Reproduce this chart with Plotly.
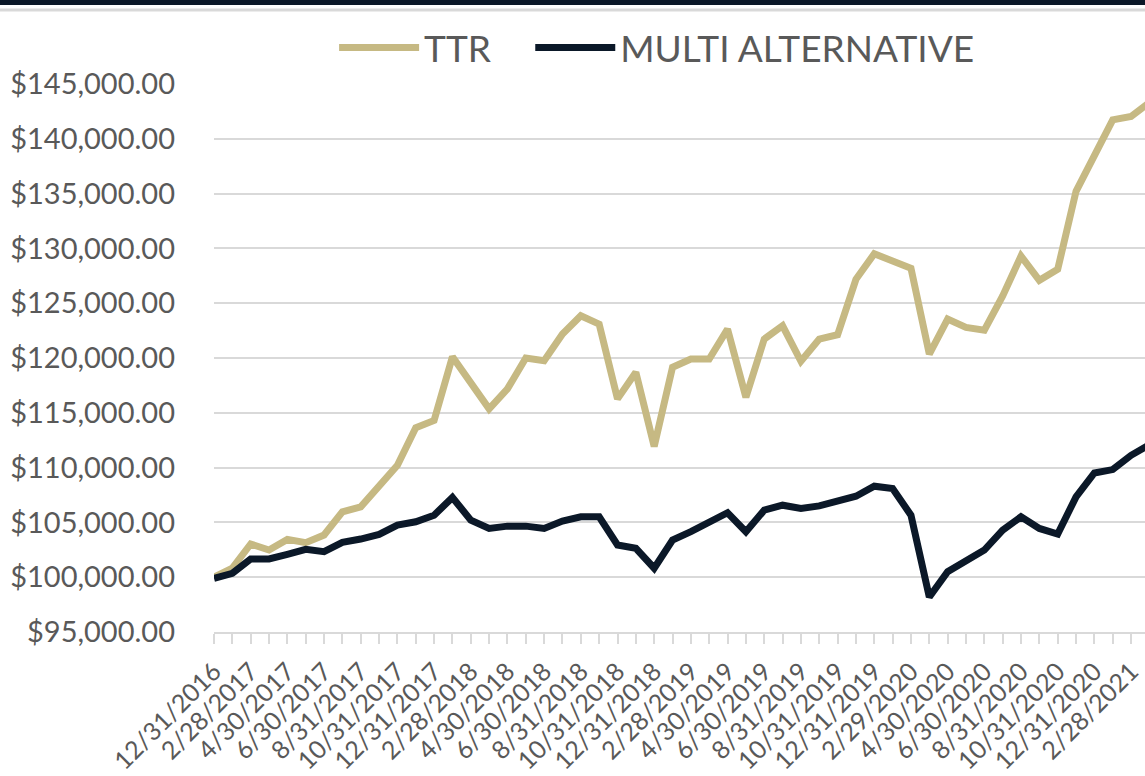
import pandas as pd
import plotly.graph_objects as go

# Month-end dates 12/31/2016 .. 3/31/2021
dates = pd.date_range("2016-12-31", "2021-03-31", freq="ME")
date_labels = [f"{d.month}/{d.day}/{d.year}" for d in dates]

ttr = [100000, 100820, 103030, 102480, 103450, 103150, 103850, 105960, 106420, 108390,
       110210, 113640, 114300, 120120, 117780, 115360, 117180, 120000, 119750, 122180,
       123850, 123090, 116270, 118690, 111940, 119150, 119900, 119900, 122630, 116420,
       121730, 122940, 119700, 121730, 122120, 127180, 129510, 128900, 128180, 120360,
       123550, 122790, 122540, 125660, 129300, 127090, 128090, 135210, 138550, 141730,
       142030, 143300]

multi_alt = [99900, 100360, 101660, 101660, 102090, 102550, 102330, 103180, 103480, 103910,
             104750, 105060, 105660, 107270, 105210, 104450, 104660, 104660, 104450, 105120,
             105510, 105510, 102940, 102640, 100820, 103390, 104150, 104970, 105880, 104150,
             106120, 106570, 106270, 106510, 107030, 107390, 108300, 108090, 105660, 98200,
             100510, 101570, 102480, 104300, 105510, 104450, 103940, 107330, 109510, 109820,
             111120, 112090]

series_names = ["TTR", "MULTI ALTERNATIVE"]
series_colors = ["#C6B983", "#0B1828"]
series_legends = ["legend", "legend2"]

idx = list(range(len(dates)))
tick_idx = idx[::2]
tick_text = date_labels[::2]

FONT = "Lato"
GRAY = "#595959"
GRID = "#D9D9D9"

fig = go.Figure()
for name, vals, col, lg in zip(series_names, [ttr, multi_alt], series_colors, series_legends):
    fig.add_trace(go.Scatter(x=idx, y=vals, name=name, mode="lines", legend=lg,
                             line=dict(color=col, width=7), hoverinfo="skip"))

legend_common = dict(orientation="h", xanchor="left", y=1.066, yanchor="middle",
                     font=dict(size=37, color=GRAY, family=FONT), itemwidth=80,
                     bgcolor="rgba(0,0,0,0)", itemclick=False)

fig.update_layout(
    width=1145, height=776,
    margin=dict(l=214, r=0, t=84, b=144, autoexpand=False),
    paper_bgcolor="white", plot_bgcolor="white",
    font=dict(family=FONT, color=GRAY, size=26),
    showlegend=True,
    legend=dict(x=0.129, **legend_common),
    legend2=dict(x=0.3397, **legend_common),
    xaxis=dict(
        range=[0, 50.76], tickmode="array", tickvals=tick_idx, ticktext=tick_text,
        tickangle=-45, showgrid=False, zeroline=False, automargin=False,
        ticklabeloverflow="allow", ticklabelstandoff=3,
        showline=True, linecolor=GRID, linewidth=2,
        ticks="outside", ticklen=10, tickcolor=GRID, tickwidth=2,
        minor=dict(tickmode="array", tickvals=idx, ticks="outside", ticklen=10,
                   tickcolor=GRID, tickwidth=2, showgrid=False),
        tickfont=dict(size=25, color=GRAY, family=FONT),
    ),
    yaxis=dict(
        range=[95000, 145000], dtick=5000, tick0=95000, automargin=False,
        tickprefix="$", tickformat=",.2f",
        showgrid=True, gridcolor=GRID, gridwidth=2, zeroline=False, showline=False,
        ticks="", ticklabelstandoff=38,
        tickfont=dict(size=29, color=GRAY, family=FONT),
    ),
    shapes=[
        dict(type="rect", xref="paper", yref="paper", x0=-0.25, x1=1.01,
             y0=1 + (84 - 5) / 548, y1=1.2, fillcolor="#0B1828", line=dict(width=0),
             layer="above"),
        dict(type="line", xref="paper", yref="paper", x0=-0.25, x1=1.01,
             y0=1 + (84 - 10) / 548, y1=1 + (84 - 10) / 548,
             line=dict(color=GRID, width=3)),
    ],
)

fig.write_html("out.html", config={"displayModeBar": False},
               post_script="document.body.style.margin='0px';")
